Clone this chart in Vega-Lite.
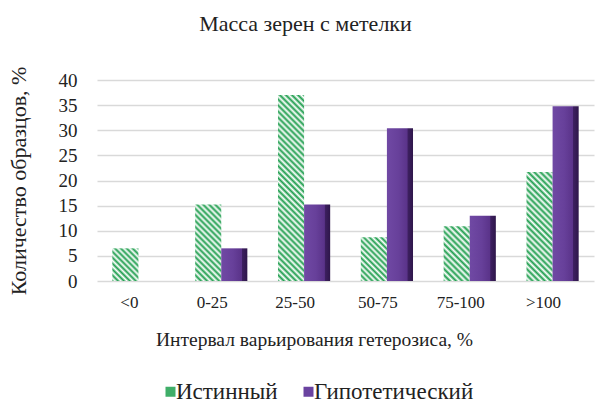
{
  "$schema": "https://vega.github.io/schema/vega-lite/v6.json",
  "width": 497,
  "height": 201,
  "autosize": "none",
  "padding": {"left": 97, "top": 80, "right": 4, "bottom": 122},
  "background": "white",
  "title": {"text": "Масса зерен с метелки", "font": "Liberation Serif, Times New Roman, DejaVu Serif, serif", "fontSize": 22, "fontWeight": "normal", "color": "#222", "offset": 30, "dx": -40},
  "config": {
    "font": "Liberation Serif, Times New Roman, DejaVu Serif, serif",
    "view": {"stroke": null},
    "axis": {"labelFont": "Liberation Serif, Times New Roman, DejaVu Serif, serif", "titleFont": "Liberation Serif, Times New Roman, DejaVu Serif, serif", "labelColor": "#222", "titleColor": "#222", "titleFontWeight": "normal"},
    "legend": {"labelFont": "Liberation Serif, Times New Roman, DejaVu Serif, serif", "labelColor": "#222"}
  },
  "data": {"values": [
    {"cat": "<0", "series": "Истинный", "value": 6.5},
    {"cat": "<0", "series": "Гипотетический", "value": 0},
    {"cat": "0-25", "series": "Истинный", "value": 15.2},
    {"cat": "0-25", "series": "Гипотетический", "value": 6.5},
    {"cat": "25-50", "series": "Истинный", "value": 37.0},
    {"cat": "25-50", "series": "Гипотетический", "value": 15.2},
    {"cat": "50-75", "series": "Истинный", "value": 8.7},
    {"cat": "50-75", "series": "Гипотетический", "value": 30.4},
    {"cat": "75-100", "series": "Истинный", "value": 10.9},
    {"cat": "75-100", "series": "Гипотетический", "value": 13.0},
    {"cat": ">100", "series": "Истинный", "value": 21.7},
    {"cat": ">100", "series": "Гипотетический", "value": 34.8}
  ]},
  "mark": {"type": "bar"},
  "encoding": {
    "x": {
      "field": "cat", "type": "nominal", "sort": null,
      "scale": {"paddingInner": 0.37, "paddingOuter": 0.185},
      "axis": {"title": "Интервал варьирования гетерозиса, %", "titleFontSize": 19.5, "titlePadding": 20, "titleX": 217,
               "labelFontSize": 17, "labelAngle": 0, "labelPadding": 13, "labelOffset": -9, "ticks": false, "tickSize": 0, "domain": false, "grid": false}
    },
    "xOffset": {"field": "series", "type": "nominal", "scale": {"domain": ["Истинный", "Гипотетический"]}},
    "y": {
      "field": "value", "type": "quantitative",
      "scale": {"domain": [0, 40], "nice": false},
      "axis": {"title": "Количество образцов, %", "titleFontSize": 22, "titlePadding": 28, "offset": 9,
               "values": [0, 5, 10, 15, 20, 25, 30, 35, 40], "labelFontSize": 19, "labelPadding": 11,
               "tickSize": 0, "domain": false, "grid": true, "gridColor": "#d9d9d9", "gridWidth": 1.5, "tickColor": "#d9d9d9", "tickWidth": 1.5,
               "encode": {
                 "grid": {"x": {"value": 20}, "x2": {"value": {"expr": "width + 5"}}, "y": {"value": {"expr": "scale('y', datum.value) - 14"}}},
                 "ticks": {"x": {"value": 1}, "x2": {"value": 20}, "y": {"value": {"expr": "scale('y', datum.value)"}}, "y2": {"value": {"expr": "scale('y', datum.value) - 14"}}}
               }}
    },
    "fill": {
      "field": "series", "type": "nominal",
      "scale": {"domain": ["Истинный", "Гипотетический"], "range": ["#3fae68", "#6a43a0"]},
      "legend": {"title": null, "orient": "none", "legendX": 62, "legendY": 300, "direction": "horizontal", "symbolType": "square", "symbolSize": 100,
                 "labelFontSize": 23, "labelLimit": 300, "columnPadding": 19, "labelOffset": -6},
      "condition": [
        {"test": "datum.series === 'Истинный' && datum.cat === '<0'", "value": {"gradient": "linear", "x1": 0, "y1": 1, "x2": 0.87843, "y2": -0.09731, "stops": [
          {"offset": 0, "color": "#1f9e4e"}, {"offset": 0.05, "color": "#ffffff"}, {"offset": 0.1, "color": "#1f9e4e"}, {"offset": 0.15, "color": "#ffffff"}, {"offset": 0.2, "color": "#1f9e4e"}, {"offset": 0.25, "color": "#ffffff"}, {"offset": 0.3, "color": "#1f9e4e"}, {"offset": 0.35, "color": "#ffffff"}, {"offset": 0.4, "color": "#1f9e4e"}, {"offset": 0.45, "color": "#ffffff"}, {"offset": 0.5, "color": "#1f9e4e"}, {"offset": 0.55, "color": "#ffffff"}, {"offset": 0.6, "color": "#1f9e4e"}, {"offset": 0.65, "color": "#ffffff"}, {"offset": 0.7, "color": "#1f9e4e"}, {"offset": 0.75, "color": "#ffffff"}, {"offset": 0.8, "color": "#1f9e4e"}, {"offset": 0.85, "color": "#ffffff"}, {"offset": 0.9, "color": "#1f9e4e"}, {"offset": 0.95, "color": "#ffffff"}, {"offset": 1, "color": "#1f9e4e"}]}},
        {"test": "datum.series === 'Истинный' && datum.cat === '0-25'", "value": {"gradient": "linear", "x1": 0, "y1": 1, "x2": 0.41129, "y2": -0.20153, "stops": [
          {"offset": 0, "color": "#1f9e4e"}, {"offset": 0.0294, "color": "#ffffff"}, {"offset": 0.0588, "color": "#1f9e4e"}, {"offset": 0.0882, "color": "#ffffff"}, {"offset": 0.1176, "color": "#1f9e4e"}, {"offset": 0.1471, "color": "#ffffff"}, {"offset": 0.1765, "color": "#1f9e4e"}, {"offset": 0.2059, "color": "#ffffff"}, {"offset": 0.2353, "color": "#1f9e4e"}, {"offset": 0.2647, "color": "#ffffff"}, {"offset": 0.2941, "color": "#1f9e4e"}, {"offset": 0.3235, "color": "#ffffff"}, {"offset": 0.3529, "color": "#1f9e4e"}, {"offset": 0.3824, "color": "#ffffff"}, {"offset": 0.4118, "color": "#1f9e4e"}, {"offset": 0.4412, "color": "#ffffff"}, {"offset": 0.4706, "color": "#1f9e4e"}, {"offset": 0.5, "color": "#ffffff"}, {"offset": 0.5294, "color": "#1f9e4e"}, {"offset": 0.5588, "color": "#ffffff"}, {"offset": 0.5882, "color": "#1f9e4e"}, {"offset": 0.6176, "color": "#ffffff"}, {"offset": 0.6471, "color": "#1f9e4e"}, {"offset": 0.6765, "color": "#ffffff"}, {"offset": 0.7059, "color": "#1f9e4e"}, {"offset": 0.7353, "color": "#ffffff"}, {"offset": 0.7647, "color": "#1f9e4e"}, {"offset": 0.7941, "color": "#ffffff"}, {"offset": 0.8235, "color": "#1f9e4e"}, {"offset": 0.8529, "color": "#ffffff"}, {"offset": 0.8824, "color": "#1f9e4e"}, {"offset": 0.9118, "color": "#ffffff"}, {"offset": 0.9412, "color": "#1f9e4e"}, {"offset": 0.9706, "color": "#ffffff"}, {"offset": 1, "color": "#1f9e4e"}]}},
        {"test": "datum.series === 'Истинный' && datum.cat === '25-50'", "value": {"gradient": "linear", "x1": 0, "y1": 1, "x2": 0.15728, "y2": -0.1185, "stops": [
          {"offset": 0, "color": "#1f9e4e"}, {"offset": 0.0143, "color": "#ffffff"}, {"offset": 0.0286, "color": "#1f9e4e"}, {"offset": 0.0429, "color": "#ffffff"}, {"offset": 0.0571, "color": "#1f9e4e"}, {"offset": 0.0714, "color": "#ffffff"}, {"offset": 0.0857, "color": "#1f9e4e"}, {"offset": 0.1, "color": "#ffffff"}, {"offset": 0.1143, "color": "#1f9e4e"}, {"offset": 0.1286, "color": "#ffffff"}, {"offset": 0.1429, "color": "#1f9e4e"}, {"offset": 0.1571, "color": "#ffffff"}, {"offset": 0.1714, "color": "#1f9e4e"}, {"offset": 0.1857, "color": "#ffffff"}, {"offset": 0.2, "color": "#1f9e4e"}, {"offset": 0.2143, "color": "#ffffff"}, {"offset": 0.2286, "color": "#1f9e4e"}, {"offset": 0.2429, "color": "#ffffff"}, {"offset": 0.2571, "color": "#1f9e4e"}, {"offset": 0.2714, "color": "#ffffff"}, {"offset": 0.2857, "color": "#1f9e4e"}, {"offset": 0.3, "color": "#ffffff"}, {"offset": 0.3143, "color": "#1f9e4e"}, {"offset": 0.3286, "color": "#ffffff"}, {"offset": 0.3429, "color": "#1f9e4e"}, {"offset": 0.3571, "color": "#ffffff"}, {"offset": 0.3714, "color": "#1f9e4e"}, {"offset": 0.3857, "color": "#ffffff"}, {"offset": 0.4, "color": "#1f9e4e"}, {"offset": 0.4143, "color": "#ffffff"}, {"offset": 0.4286, "color": "#1f9e4e"}, {"offset": 0.4429, "color": "#ffffff"}, {"offset": 0.4571, "color": "#1f9e4e"}, {"offset": 0.4714, "color": "#ffffff"}, {"offset": 0.4857, "color": "#1f9e4e"}, {"offset": 0.5, "color": "#ffffff"}, {"offset": 0.5143, "color": "#1f9e4e"}, {"offset": 0.5286, "color": "#ffffff"}, {"offset": 0.5429, "color": "#1f9e4e"}, {"offset": 0.5571, "color": "#ffffff"}, {"offset": 0.5714, "color": "#1f9e4e"}, {"offset": 0.5857, "color": "#ffffff"}, {"offset": 0.6, "color": "#1f9e4e"}, {"offset": 0.6143, "color": "#ffffff"}, {"offset": 0.6286, "color": "#1f9e4e"}, {"offset": 0.6429, "color": "#ffffff"}, {"offset": 0.6571, "color": "#1f9e4e"}, {"offset": 0.6714, "color": "#ffffff"}, {"offset": 0.6857, "color": "#1f9e4e"}, {"offset": 0.7, "color": "#ffffff"}, {"offset": 0.7143, "color": "#1f9e4e"}, {"offset": 0.7286, "color": "#ffffff"}, {"offset": 0.7429, "color": "#1f9e4e"}, {"offset": 0.7571, "color": "#ffffff"}, {"offset": 0.7714, "color": "#1f9e4e"}, {"offset": 0.7857, "color": "#ffffff"}, {"offset": 0.8, "color": "#1f9e4e"}, {"offset": 0.8143, "color": "#ffffff"}, {"offset": 0.8286, "color": "#1f9e4e"}, {"offset": 0.8429, "color": "#ffffff"}, {"offset": 0.8571, "color": "#1f9e4e"}, {"offset": 0.8714, "color": "#ffffff"}, {"offset": 0.8857, "color": "#1f9e4e"}, {"offset": 0.9, "color": "#ffffff"}, {"offset": 0.9143, "color": "#1f9e4e"}, {"offset": 0.9286, "color": "#ffffff"}, {"offset": 0.9429, "color": "#1f9e4e"}, {"offset": 0.9571, "color": "#ffffff"}, {"offset": 0.9714, "color": "#1f9e4e"}, {"offset": 0.9857, "color": "#ffffff"}, {"offset": 1, "color": "#1f9e4e"}]}},
        {"test": "datum.series === 'Истинный' && datum.cat === '50-75'", "value": {"gradient": "linear", "x1": 0, "y1": 1, "x2": 0.7039, "y2": -0.17707, "stops": [
          {"offset": 0, "color": "#1f9e4e"}, {"offset": 0.0417, "color": "#ffffff"}, {"offset": 0.0833, "color": "#1f9e4e"}, {"offset": 0.125, "color": "#ffffff"}, {"offset": 0.1667, "color": "#1f9e4e"}, {"offset": 0.2083, "color": "#ffffff"}, {"offset": 0.25, "color": "#1f9e4e"}, {"offset": 0.2917, "color": "#ffffff"}, {"offset": 0.3333, "color": "#1f9e4e"}, {"offset": 0.375, "color": "#ffffff"}, {"offset": 0.4167, "color": "#1f9e4e"}, {"offset": 0.4583, "color": "#ffffff"}, {"offset": 0.5, "color": "#1f9e4e"}, {"offset": 0.5417, "color": "#ffffff"}, {"offset": 0.5833, "color": "#1f9e4e"}, {"offset": 0.625, "color": "#ffffff"}, {"offset": 0.6667, "color": "#1f9e4e"}, {"offset": 0.7083, "color": "#ffffff"}, {"offset": 0.75, "color": "#1f9e4e"}, {"offset": 0.7917, "color": "#ffffff"}, {"offset": 0.8333, "color": "#1f9e4e"}, {"offset": 0.875, "color": "#ffffff"}, {"offset": 0.9167, "color": "#1f9e4e"}, {"offset": 0.9583, "color": "#ffffff"}, {"offset": 1, "color": "#1f9e4e"}]}},
        {"test": "datum.series === 'Истинный' && datum.cat === '75-100'", "value": {"gradient": "linear", "x1": 0, "y1": 1, "x2": 0.57436, "y2": -0.20319, "stops": [
          {"offset": 0, "color": "#1f9e4e"}, {"offset": 0.0385, "color": "#ffffff"}, {"offset": 0.0769, "color": "#1f9e4e"}, {"offset": 0.1154, "color": "#ffffff"}, {"offset": 0.1538, "color": "#1f9e4e"}, {"offset": 0.1923, "color": "#ffffff"}, {"offset": 0.2308, "color": "#1f9e4e"}, {"offset": 0.2692, "color": "#ffffff"}, {"offset": 0.3077, "color": "#1f9e4e"}, {"offset": 0.3462, "color": "#ffffff"}, {"offset": 0.3846, "color": "#1f9e4e"}, {"offset": 0.4231, "color": "#ffffff"}, {"offset": 0.4615, "color": "#1f9e4e"}, {"offset": 0.5, "color": "#ffffff"}, {"offset": 0.5385, "color": "#1f9e4e"}, {"offset": 0.5769, "color": "#ffffff"}, {"offset": 0.6154, "color": "#1f9e4e"}, {"offset": 0.6538, "color": "#ffffff"}, {"offset": 0.6923, "color": "#1f9e4e"}, {"offset": 0.7308, "color": "#ffffff"}, {"offset": 0.7692, "color": "#1f9e4e"}, {"offset": 0.8077, "color": "#ffffff"}, {"offset": 0.8462, "color": "#1f9e4e"}, {"offset": 0.8846, "color": "#ffffff"}, {"offset": 0.9231, "color": "#1f9e4e"}, {"offset": 0.9615, "color": "#ffffff"}, {"offset": 1, "color": "#1f9e4e"}]}},
        {"test": "datum.series === 'Истинный' && datum.cat === '>100'", "value": {"gradient": "linear", "x1": 0, "y1": 1, "x2": 0.28111, "y2": -0.1724, "stops": [
          {"offset": 0, "color": "#1f9e4e"}, {"offset": 0.0227, "color": "#ffffff"}, {"offset": 0.0455, "color": "#1f9e4e"}, {"offset": 0.0682, "color": "#ffffff"}, {"offset": 0.0909, "color": "#1f9e4e"}, {"offset": 0.1136, "color": "#ffffff"}, {"offset": 0.1364, "color": "#1f9e4e"}, {"offset": 0.1591, "color": "#ffffff"}, {"offset": 0.1818, "color": "#1f9e4e"}, {"offset": 0.2045, "color": "#ffffff"}, {"offset": 0.2273, "color": "#1f9e4e"}, {"offset": 0.25, "color": "#ffffff"}, {"offset": 0.2727, "color": "#1f9e4e"}, {"offset": 0.2955, "color": "#ffffff"}, {"offset": 0.3182, "color": "#1f9e4e"}, {"offset": 0.3409, "color": "#ffffff"}, {"offset": 0.3636, "color": "#1f9e4e"}, {"offset": 0.3864, "color": "#ffffff"}, {"offset": 0.4091, "color": "#1f9e4e"}, {"offset": 0.4318, "color": "#ffffff"}, {"offset": 0.4545, "color": "#1f9e4e"}, {"offset": 0.4773, "color": "#ffffff"}, {"offset": 0.5, "color": "#1f9e4e"}, {"offset": 0.5227, "color": "#ffffff"}, {"offset": 0.5455, "color": "#1f9e4e"}, {"offset": 0.5682, "color": "#ffffff"}, {"offset": 0.5909, "color": "#1f9e4e"}, {"offset": 0.6136, "color": "#ffffff"}, {"offset": 0.6364, "color": "#1f9e4e"}, {"offset": 0.6591, "color": "#ffffff"}, {"offset": 0.6818, "color": "#1f9e4e"}, {"offset": 0.7045, "color": "#ffffff"}, {"offset": 0.7273, "color": "#1f9e4e"}, {"offset": 0.75, "color": "#ffffff"}, {"offset": 0.7727, "color": "#1f9e4e"}, {"offset": 0.7955, "color": "#ffffff"}, {"offset": 0.8182, "color": "#1f9e4e"}, {"offset": 0.8409, "color": "#ffffff"}, {"offset": 0.8636, "color": "#1f9e4e"}, {"offset": 0.8864, "color": "#ffffff"}, {"offset": 0.9091, "color": "#1f9e4e"}, {"offset": 0.9318, "color": "#ffffff"}, {"offset": 0.9545, "color": "#1f9e4e"}, {"offset": 0.9773, "color": "#ffffff"}, {"offset": 1, "color": "#1f9e4e"}]}},
        {"test": "datum.series === 'Гипотетический'", "value": {"gradient": "linear", "x1": 0, "y1": 0, "x2": 1, "y2": 0, "stops": [
          {"offset": 0, "color": "#7049a4"}, {"offset": 0.45, "color": "#67409a"}, {"offset": 0.78, "color": "#5a3389"}, {"offset": 0.8, "color": "#3d2060"}, {"offset": 1, "color": "#2e164a"}]}}
      ]
    }
  }
}
